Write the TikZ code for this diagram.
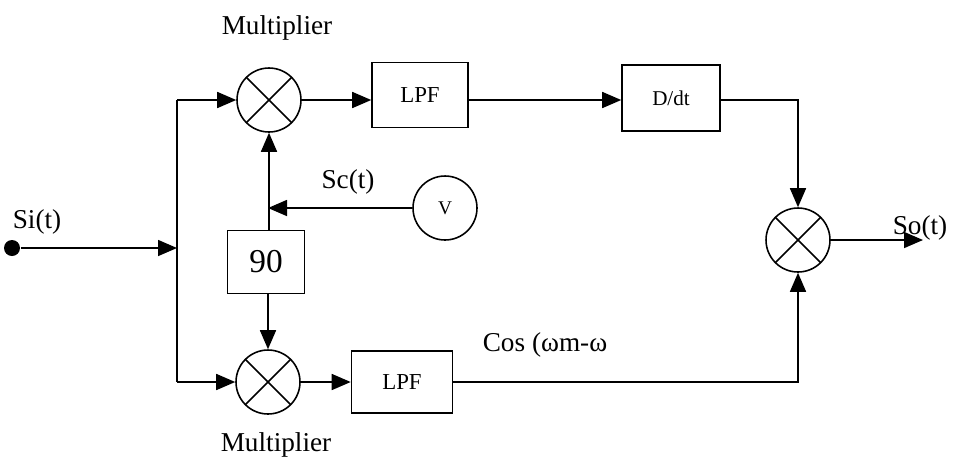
\documentclass[tikz,border=0pt]{standalone}
\usepackage{fontspec}
\setmainfont{Liberation Serif}
\usetikzlibrary{arrows.meta}
\begin{document}
\begin{tikzpicture}[x=0.02cm, y=-0.02cm, line width=0.9pt,
    mult/.style={circle, draw, minimum size=1.28cm, inner sep=0pt,
        path picture={\draw (path picture bounding box.north west) -- (path picture bounding box.south east);
                      \draw (path picture bounding box.north east) -- (path picture bounding box.south west);}},
    block/.style={rectangle, draw, inner sep=2pt},
    lbl/.style={font=\fontsize{15.5}{18}\selectfont}]
    \useasboundingbox (0,0) rectangle (956,461);

    \node [circle, fill, inner sep=0pt, minimum size=0.32cm] (src) at (12,248) {};
    \coordinate (split) at (177,248);
    \coordinate (topsplit) at (177,100);
    \coordinate (botsplit) at (177,382);

    \node [mult] (mtop) at (269,100) {};
    \node [mult] (mbot) at (268,382) {};
    \node [mult] (mout) at (798,240) {};
    \node [circle, draw, minimum size=1.28cm, font=\fontsize{11}{13}\selectfont] (osc) at (445,208) {V};
    \coordinate (jn) at (268,208);
    \coordinate (out) at (923,240);

    \begin{scope}[every node/.style={block}]
        \node [minimum width=1.92cm, minimum height=1.3cm, font=\fontsize{13}{15}\selectfont] (lpftop) at (420,95) {LPF};
        \node [minimum width=1.96cm, minimum height=1.32cm, font=\fontsize{12}{14}\selectfont] (ddt) at (671,98) {D/dt};
        \node [minimum width=2.02cm, minimum height=1.24cm, font=\fontsize{13}{15}\selectfont] (lpfbot) at (402,382) {LPF};
        \node [minimum width=1.54cm, minimum height=1.26cm, font=\fontsize{19}{22}\selectfont] (ninety) at (266,262) {90};
    \end{scope}

    \begin{scope}[-{Triangle[length=0.38cm, width=0.32cm]}]
        \draw (src) -- (split);
        \draw (topsplit) -- (mtop);
        \draw (botsplit) -- (mbot);
        \draw (mtop) -- (lpftop.west |- mtop);
        \draw (lpftop.east |- mtop) -- (ddt.west |- mtop);
        \draw (ddt.east |- mtop) -| (mout);
        \draw (osc) -- (jn);
        \draw (ninety.north -| mtop) -- (mtop);
        \draw (ninety.south -| mbot) -- (mbot);
        \draw (mbot) -- (lpfbot);
        \draw (lpfbot) -| (mout);
        \draw (mout) -- (out);
    \end{scope}
    \draw (topsplit) -- (botsplit);

    \node [lbl] at (277,28) {Multiplier};
    \node [lbl] at (276,445) {Multiplier};
    \node [lbl] at (37,222) {Si(t)};
    \node [lbl] at (348,182) {Sc(t)};
    \node [lbl] at (545,345) {Cos (ωm-ω};
    \node [lbl] at (920,228) {So(t)};
\end{tikzpicture}
\end{document}
